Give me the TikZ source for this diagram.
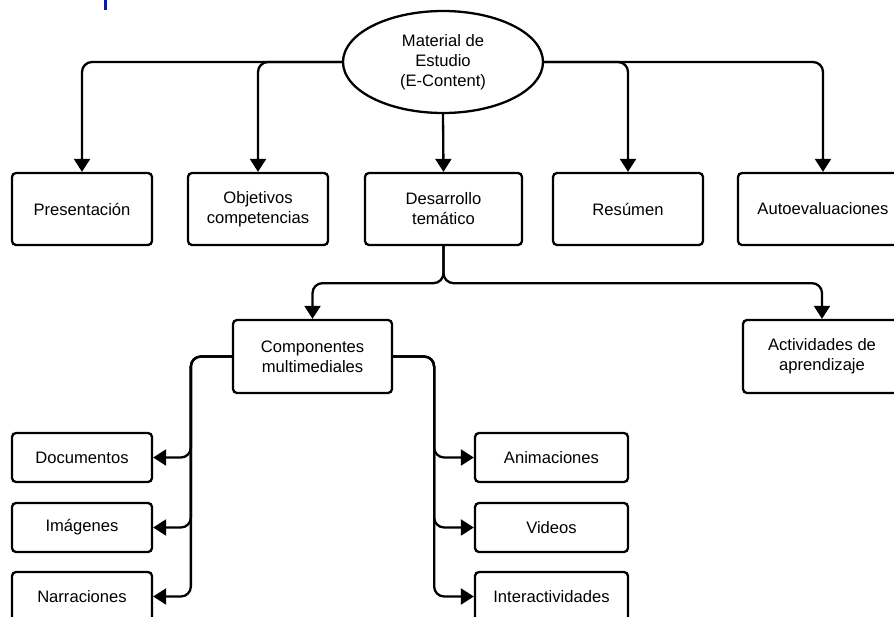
\documentclass[tikz,border=0pt]{standalone}
\usepackage{fontspec}
\setmainfont{Liberation Sans}
\usetikzlibrary{shapes.geometric, arrows.meta}
\definecolor{markblue}{RGB}{10,30,155}

\begin{document}
\begin{tikzpicture}[
  x=1pt, y=-1pt,
  font=\fontsize{16.6}{20}\selectfont,
  box/.style={draw, line width=2.3pt, rounded corners=4pt, align=center,
    minimum width=140pt, minimum height=72pt, inner sep=2pt},
  leaf/.style={box, minimum height=49pt},
  conn/.style={line width=2.3pt, rounded corners=10pt,
    -{Triangle[width=16pt,length=13pt]}}],
    \useasboundingbox (0,0) rectangle (894,616);
    \clip (0,0) rectangle (894,616);
    % stray mark at the top
    \fill[markblue] (104,0) rectangle (107,10);
    % Root node
    \node[ellipse, draw, line width=2.3pt, minimum width=200pt, minimum height=102pt,
      align=center, inner sep=0pt] (mat) at (443,62) {Material de\\Estudio\\(E-Content)};
    % First level
    \node[box] (pres) at (82,209) {Presentación};
    \node[box] (obj) at (258,209) {Objetivos\\competencias};
    \node[box, minimum width=157pt] (des) at (443.5,209) {Desarrollo\\temático};
    \node[box, minimum width=150pt] (res) at (628,209) {Resúmen};
    \node[box, minimum width=170pt] (auto) at (823,209) {Autoevaluaciones};
    % Second level
    \node[box, minimum width=159pt, minimum height=73pt] (comp) at (312.5,356.5) {Componentes\\multimediales};
    \node[box, minimum width=158pt, minimum height=73pt] (act) at (822,356.5) {Actividades de\\aprendizaje};
    % Leaves on the left
    \node[leaf] (doc) at (82,457.5) {Documentos};
    \node[leaf] (img) at (82,527.5) {Imágenes};
    \node[leaf] (nar) at (82,596.5) {Narraciones};
    % Leaves on the right
    \node[leaf, minimum width=153pt] (ani) at (551.5,457.5) {Animaciones};
    \node[leaf, minimum width=153pt] (vid) at (551.5,527.5) {Videos};
    \node[leaf, minimum width=153pt] (inter) at (551.5,596.5) {Interactividades};
    % Branch points
    \coordinate (split) at ([yshift=-37pt]des.south);
    \coordinate (lbus) at ([xshift=-41pt]comp.west);
    \coordinate (rbus) at ([xshift=41pt]comp.east);
    % Connectors from the root
    \draw[conn] (mat.west) -| (pres.north);
    \draw[conn] (mat.west) -| (obj.north);
    \draw[conn] (mat.south) -- (des.north);
    \draw[conn] (mat.east) -| (res.north);
    \draw[conn] (mat.east) -| (auto.north);
    % Connectors from Desarrollo
    \draw[conn] (des.south) -- (split) -| (comp.north);
    \draw[conn] (des.south) -- (split) -| (act.north);
    % Connectors from Componentes
    \foreach \leafname in {doc, img, nar}
      \draw[conn] (comp.west) -- (lbus) |- (\leafname.east);
    \foreach \leafname in {ani, vid, inter}
      \draw[conn] (comp.east) -- (rbus) |- (\leafname.west);
\end{tikzpicture}
\end{document}
